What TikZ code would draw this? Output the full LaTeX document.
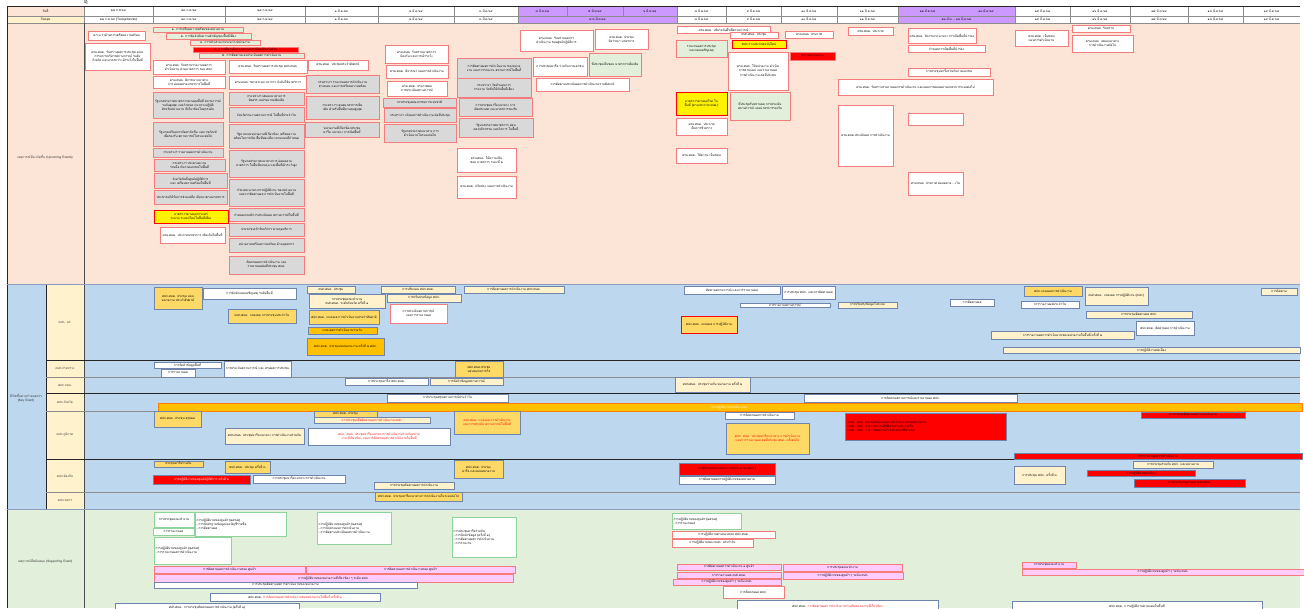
\documentclass[tikz,border=0pt]{standalone}
\usepackage{fontspec}
\newfontfamily\thaifont[Script=Thai]{Loma}
\XeTeXlinebreaklocale "th"
\XeTeXlinebreakskip=0pt

\definecolor{peach}{HTML}{FCE4D6}
\definecolor{keyblue}{HTML}{BDD7EE}
\definecolor{supgreen}{HTML}{E2EFDA}
\definecolor{cream}{HTML}{FFF2CC}
\definecolor{amber}{HTML}{FFD966}
\definecolor{deepamber}{HTML}{FFC000}
\definecolor{boxgray}{HTML}{D9D9D9}
\definecolor{boxred}{HTML}{F47C7C}
\definecolor{keyline}{HTML}{6F85AD}
\definecolor{pinkbar}{HTML}{FFCCFF}
\definecolor{greenline}{HTML}{8ED39B}
\definecolor{holiday}{HTML}{CC99FF}
\definecolor{gridgray}{HTML}{8C8C8C}

% box from corner (x1,y1) to corner (x2,y2), in pixels of the chart
\newcommand{\bx}[7]{%
  \pgfmathsetmacro\bxw{#5-#3}%
  \pgfmathsetmacro\bxh{#6-#4}%
  \pgfmathsetmacro\bxt{max(#5-#3-3,1)}%
  \node[#2, minimum width=\bxw pt, minimum height=\bxh pt, text width=\bxt pt] (#1) at ({(#3+#5)/2},{(#4+#6)/2}) {#7};%
}

\begin{document}
\begin{tikzpicture}[
    x=1pt, y=-1pt,
    tinyfont/.style={font=\thaifont\fontsize{3.1}{4.1}\selectfont},
    box/.style={tinyfont, line width=0.7pt, inner xsep=1.5pt, inner ysep=0pt, align=center},
    wbox/.style={box, fill=white, draw=boxred},
    gbox/.style={box, fill=boxgray, draw=boxred},
    lgbox/.style={box, fill=supgreen, draw=boxred},
    ybox/.style={box, fill=yellow, draw=red},
    rbox/.style={box, fill=red, draw=boxred},
    kwbox/.style={box, fill=white, draw=keyline},
    kobox/.style={box, fill=amber, draw=keyline},
    kdbox/.style={box, fill=deepamber, draw=keyline},
    kcbox/.style={box, fill=cream, draw=keyline},
    krbox/.style={box, fill=red, draw=keyline},
    pkbox/.style={box, fill=pinkbar, draw=boxred},
    gnbox/.style={box, fill=white, draw=greenline},
    hcell/.style={tinyfont, inner sep=0pt},
    lanelabel/.style={tinyfont, align=center, text=black!80},
    lanerule/.style={draw=black!85, line width=0.8pt},
    subrule/.style={draw=gridgray, line width=0.8pt}
  ]
  \useasboundingbox (0,0) rectangle (1304,608);

  %Backgrounds
  \fill[peach] (7,23) rectangle (1300,284);
  \fill[keyblue] (7,284) rectangle (1300,509);
  \fill[supgreen] (7,509) rectangle (1300,608);
  \fill[cream] (46,284) rectangle (84,509);

  %Header
  \fill[peach] (7,6) rectangle (84,16);
  \fill[cream] (7,16) rectangle (84,23);
  \fill[holiday] (518,6) rectangle (677,23);
  \fill[holiday] (898,6) rectangle (1015,23);
  \node[hcell] (hdate) at (45.5,11) {วันที่};
  \node[hcell] (hhol) at (45.5,19.5) {วันหยุด};
  \node[tinyfont, font=\thaifont\fontsize{6}{6}\selectfont] (mark) at (86,2) {ฤ};

  \foreach \xa/\xb/\dt [count=\i] in {84/153/{๒๒ ก.พ.๖๔}, 153/225/{๒๓ ก.พ.๖๔}, 225/305/{๒๔ ก.พ.๖๔},
      305/378/{๑ มี.ค.๖๔}, 378/454/{๒ มี.ค.๖๔}, 454/518/{๓ มี.ค.๖๔}, 518/567/{๔ มี.ค.๖๔},
      567/623/{๕ มี.ค.๖๔}, 623/677/{๖ มี.ค.๖๔}, 677/726/{๘ มี.ค.๖๔}, 726/781/{๙ มี.ค.๖๔},
      781/837/{๑๐ มี.ค.๖๔}, 837/898/{๑๑ มี.ค.๖๔}, 898/957/{๑๒ มี.ค.๖๔}, 957/1015/{๑๓ มี.ค.๖๔},
      1015/1070/{๑๕ มี.ค.๖๔}, 1070/1130/{๑๖ มี.ค.๖๔}, 1130/1188/{๑๗ มี.ค.๖๔}, 1188/1243/{๑๘ มี.ค.๖๔},
      1243/1300/{๑๙ มี.ค.๖๔}}
    {\node[hcell] (d\i) at ({(\xa+\xb)/2},11) {\dt};}

  \foreach \xa/\xb/\dt [count=\i] in {84/153/{๒๒ ก.พ.๖๔ (วันหยุดชดเชย)}, 153/225/{๒๓ ก.พ.๖๔}, 225/305/{๒๔ ก.พ.๖๔},
      305/378/{๑ มี.ค.๖๔}, 378/454/{๒ มี.ค.๖๔}, 454/518/{๓ มี.ค.๖๔}, 518/677/{๔-๖ มี.ค.๖๔},
      677/726/{๘ มี.ค.๖๔}, 726/781/{๙ มี.ค.๖๔}, 781/837/{๑๐ มี.ค.๖๔}, 837/898/{๑๑ มี.ค.๖๔},
      898/1015/{๑๒ มี.ค. - ๑๓ มี.ค.๖๔}, 1015/1070/{๑๕ มี.ค.๖๔}, 1070/1130/{๑๖ มี.ค.๖๔},
      1130/1188/{๑๗ มี.ค.๖๔}, 1188/1243/{๑๘ มี.ค.๖๔}, 1243/1300/{๑๙ มี.ค.๖๔}}
    {\node[hcell] (h\i) at ({(\xa+\xb)/2},19.5) {\dt};}

  \foreach \gx in {84,153,225,305,378,454,518,677,726,781,837,898,1015,1070,1130,1188,1243}
    {\draw[subrule, line width=0.6pt] (\gx,6) -- (\gx,23);}
  \draw[subrule, line width=0.6pt] (567,6) -- (567,16) (623,6) -- (623,16);
  \draw[lanerule] (7,6) -- (1300,6);
  \draw[subrule, line width=0.5pt] (7,16) -- (1300,16);
  \draw[subrule, line width=0.5pt] (7,23) -- (1300,23);
  \draw[lanerule] (7,6) -- (7,23);

  %Lane frames
  \draw[lanerule] (7,23) -- (7,608);
  \draw[lanerule, draw=black!70] (84,23) -- (84,608);
  \draw[lanerule] (46,284) -- (46,509);
  \draw[subrule, draw=keyline!80] (7,284) -- (1300,284);
  \draw[subrule, draw=keyline!80] (7,509) -- (1300,509);
  \foreach \ry in {360,393,459} {\draw[lanerule] (46,\ry) -- (1300,\ry);}
  \foreach \ry in {377,411,492} {\draw[subrule] (46,\ry) -- (1300,\ry);}

  \node[lanelabel] (lup) at (45,157) {เหตุการณ์ที่จะเกิดขึ้น (Upcoming Events)};
  \node[lanelabel] (lkey) at (26,398) {ที่เกิดขึ้นตามกำหนดการ\\(Key Event)};
  \node[lanelabel] (lsup) at (45,561) {เหตุการณ์ที่สนับสนุน (Supporting Event)};
  \node[lanelabel] (r1) at (65,322) {ศปก. นร.};
  \node[lanelabel] (r2) at (65,368.5) {ศปก.กระทรวง};
  \node[lanelabel] (r3) at (65,385) {ศปก.กทม.};
  \node[lanelabel] (r4) at (65,402) {ศปก.จังหวัด};
  \node[lanelabel] (r5) at (65,435) {ศปก.ภูมิภาค};
  \node[lanelabel] (r6) at (65,475.5) {ศปก.ท้องถิ่น};
  \node[lanelabel] (r7) at (65,500.5) {ศปก.ทหาร};

  %% Upcoming events
  \bx{u1}{wbox}{88}{31}{145}{40}{พ.ร.บ.ว่าด้วยการเตรียมความพร้อม}
  \bx{u2}{wbox}{85}{43}{150}{70}{ครม.ศบค. รับทราบผลการประชุม คณะกรรมการบริหารสถานการณ์ ระดับจังหวัด และมาตรการ เฝ้าระวังในพื้นที่}
  \bx{u3}{lgbox}{153}{27}{243}{32}{๑. การเตรียมความพร้อมของหน่วยงาน}
  \bx{u4}{lgbox}{166}{33}{251}{39}{๒. การจัดลำดับความสำคัญของพื้นที่เสี่ยง}
  \bx{u5}{lgbox}{190}{40}{260}{45}{๓. การประสานงานระหว่างหน่วยงาน}
  \bx{u6}{rbox}{193}{47}{298}{52}{๔. การบริหารจัดการสถานการณ์ฉุกเฉินเร่งด่วน}
  \bx{u7}{lgbox}{199}{53}{304}{58}{๕. การติดตามและประเมินผลการดำเนินงาน}
  \bx{u8}{wbox}{153}{60}{225}{74}{ครม.ศบค. รับทราบรายงานผลการดำเนินงาน ตามมาตรการ ของ ศปก.}
  \bx{u9}{wbox}{153}{76}{225}{88}{ครม.ศบค. พิจารณาแนวทางการ ผ่อนคลายมาตรการในพื้นที่}
  \bx{u10}{gbox}{153}{92}{223}{118}{รัฐบาลประกาศมาตรการควบคุมพื้นที่ สถานการณ์ระดับสูงสุด และกำหนด แนวทางปฏิบัติสำหรับหน่วยงาน ที่เกี่ยวข้องในทุกระดับ}
  \bx{u11}{gbox}{153}{122}{223}{146}{รัฐบาลเตรียมการจัดหาวัคซีน และเวชภัณฑ์ เพื่อรองรับ สถานการณ์ในระยะต่อไป}
  \bx{u12}{gbox}{153}{148}{223}{157}{กระทรวงฯ รายงานผลการดำเนินงาน}
  \bx{u13}{gbox}{154}{159}{225}{171}{กระทรวงฯ ประสานความร่วมมือ กับภาคเอกชนในพื้นที่}
  \bx{u14}{gbox}{154}{173}{227}{188}{จังหวัดจัดตั้งศูนย์ปฏิบัติการ และ เตรียมความพร้อมในพื้นที่}
  \bx{u15}{gbox}{154}{190}{227}{204}{ประชาชนได้รับการช่วยเหลือ เยียวยาตามมาตรการ}
  \bx{u16}{ybox}{154}{210}{228}{223}{มาตรการควบคุมการแพร่ระบาด ระลอกใหม่ในพื้นที่เสี่ยง}
  \bx{u17}{wbox}{160}{227}{225}{243}{ครม.ศบค. ประกาศมาตรการ เพิ่มเติมในพื้นที่}
  \bx{u18}{wbox}{229}{60}{307}{73}{ครม.ศบค. รับทราบผลการประชุม ศปก.ศบค.}
  \bx{u19}{wbox}{229}{76}{307}{89}{ครม.ศบค. ขยายระยะเวลาการ บังคับใช้มาตรการ}
  \bx{u20}{gbox}{229}{92}{304}{105}{กระทรวงฯ เสนอแนวทางการจัดสรร งบประมาณเพิ่มเติม}
  \bx{u21}{gbox}{229}{107}{304}{122}{จังหวัดรายงานสถานการณ์ ในพื้นที่ประจำวัน}
  \bx{u22}{gbox}{229}{124}{304}{148}{รัฐบาลและหน่วยงานที่เกี่ยวข้อง เตรียมความพร้อมในการเปิด พื้นที่ท่องเที่ยว ตามแผนที่กำหนด}
  \bx{u23}{gbox}{229}{150}{304}{177}{รัฐบาลประกาศแนวทางการ ผ่อนคลายมาตรการ ในพื้นที่ควบคุม และพื้นที่เฝ้าระวังสูง}
  \bx{u24}{gbox}{229}{179}{304}{206}{กำหนดแนวทางการปฏิบัติงาน ของหน่วยงาน และการติดตามผล การดำเนินงานในพื้นที่}
  \bx{u25}{gbox}{229}{208}{304}{221}{กำหนดเกณฑ์การประเมินผล สถานการณ์ในพื้นที่}
  \bx{u26}{gbox}{229}{223}{304}{236}{ประชาชนเข้ารับบริการ ตามจุดบริการ}
  \bx{u27}{gbox}{229}{238}{304}{252}{หน่วยงานเตรียมความพร้อม ด้านบุคลากร}
  \bx{u28}{gbox}{229}{256}{304}{274}{ติดตามผลการดำเนินงาน และ รายงานผลต่อที่ประชุม ศบค.}
  \bx{u29}{wbox}{308}{60}{368}{70}{ครม.ศบค. ประชุมประจำสัปดาห์}
  \bx{u30}{gbox}{306}{75}{379}{93}{กระทรวงฯ รายงานผลการดำเนินงาน ตามแผน และการเตรียมความพร้อม}
  \bx{u31}{gbox}{306}{96}{379}{119}{กระทรวงฯ เสนอมาตรการเพิ่มเติม สำหรับพื้นที่ควบคุมสูงสุด}
  \bx{u32}{gbox}{305}{122}{379}{137}{หน่วยงานที่เกี่ยวข้องประชุมหารือ แนวทาง การเปิดพื้นที่}
  \bx{u33}{wbox}{385}{45}{448}{63}{ครม.ศบค. รับทราบมาตรการ ป้องกัน และการเฝ้าระวัง}
  \bx{u34}{wbox}{386}{65}{448}{78}{ครม.ศบค. พิจารณา แผนการดำเนินงาน}
  \bx{u35}{wbox}{387}{81}{447}{96}{ครม.ศบค. ประกาศผล การประเมินสถานการณ์}
  \bx{u36}{gbox}{383}{98}{456}{107}{การประชุมคณะกรรมการแห่งชาติ}
  \bx{u37}{gbox}{384}{108}{456}{122}{กระทรวงฯ แจ้งผลการดำเนินงาน ต่อที่ประชุม}
  \bx{u38}{gbox}{384}{124}{456}{142}{รัฐบาลประกาศแนวทาง การดำเนินงานในระยะต่อไป}
  \bx{u39}{gbox}{457}{58}{531}{78}{การติดตามผลการดำเนินงาน ของหน่วยงาน และการรายงาน สถานการณ์ในพื้นที่}
  \bx{u40}{gbox}{457}{78}{531}{97}{กระทรวงฯ จัดทำแผนการกระจาย วัคซีนให้กับพื้นที่เสี่ยง}
  \bx{u41}{gbox}{459}{98}{532}{116}{การประชุมหารือแนวทาง การเปิดประเทศ และมาตรการรองรับ}
  \bx{u42}{gbox}{459}{118}{533}{137}{รัฐบาลประกาศมาตรการ ผ่อนคลายกิจกรรม และกิจการ ในพื้นที่}
  \bx{u43}{wbox}{457}{148}{516}{172}{ครม.ศบค. ให้ความเห็นชอบ มาตรการ ระยะที่ ๒}
  \bx{u44}{wbox}{457}{176}{516}{198}{ครม.ศบค. ปรับปรุง แผนการดำเนินงาน}
  \bx{u45}{wbox}{520}{30}{593}{51}{ครม.ศบค. รับทราบผลการดำเนินงาน ของศูนย์ปฏิบัติการ}
  \bx{u46}{wbox}{595}{29}{648}{49}{ครม.ศบค. ประชุมพิจารณา มาตรการ}
  \bx{u47}{wbox}{533}{57}{587}{76}{การประชุมหารือ ร่วมกับภาคเอกชน}
  \bx{u48}{lgbox}{589}{53}{641}{76}{ที่ประชุมเห็นชอบ มาตรการเพิ่มเติม}
  \bx{u49}{wbox}{536}{78}{629}{91}{การติดตามประเมินผลการดำเนินงานรายสัปดาห์}
  \bx{u50}{wbox}{677}{26}{770}{33}{ครม.ศบค. ปรับระดับพื้นที่สถานการณ์}
  \bx{u51}{lgbox}{676}{40}{727}{57}{รายงานผลการประชุม และแผนเผชิญเหตุ}
  \bx{u52}{ybox}{676}{92}{727}{115}{มาตรการควบคุมโรค ในพื้นที่ (ตามประกาศ ศบค.)}
  \bx{u53}{wbox}{676}{118}{727}{135}{ครม.ศบค. ประกาศ เป็นการชั่วคราว}
  \bx{u54}{wbox}{676}{148}{727}{163}{ครม.ศบค. ให้ความ เห็นชอบ}
  \bx{u55}{wbox}{730}{32}{778}{38}{ศปก.ศบค. ประชุม}
  \bx{u56}{ybox}{732}{40}{786}{48}{ศปก.ร่างประกาศฉบับใหม่}
  \bx{u57}{wbox}{785}{31}{833}{38}{ครม.ศบค. ประกาศ}
  \bx{u58}{wbox}{728}{52}{788}{90}{ครม.ศบค. ให้หน่วยงาน ดำเนินการตามแผน และรายงานผล การดำเนินงาน ต่อที่ประชุม}
  \bx{u59}{lgbox}{730}{92}{790}{120}{ที่ประชุมรับทราบผล การประเมินสถานการณ์ และมาตรการรองรับ}
  \bx{u60}{rbox}{790}{52}{835}{60}{ประชุมหน่วยงาน}
  \bx{u61}{wbox}{848}{27}{893}{35}{ครม.ศบค. ประกาศ}
  \bx{u62}{wbox}{838}{79}{993}{95}{ครม.ศบค. รับทราบรายงานผลการดำเนินงาน และแผนการผ่อนคลายมาตรการระยะต่อไป}
  \bx{u63}{wbox}{838}{105}{893}{166}{ครม.ศบค.ประเมินผล การดำเนินงาน}
  \bx{u64}{wbox}{908}{28}{976}{43}{ครม.ศบค. พิจารณาแนวทาง การเปิดพื้นที่นำร่อง}
  \bx{u65}{wbox}{908}{45}{985}{52}{กำหนดการเปิดพื้นที่นำร่อง}
  \bx{u66}{wbox}{908}{68}{990}{76}{การประชุมหารือร่วมกับภาคเอกชน}
  \bx{u67}{wbox}{908}{113}{963}{125}{}
  \bx{u68}{wbox}{908}{172}{963}{195}{ครม.ศบค. ประกาศ ผ่อนคลาย ...เว้น}
  \bx{u69}{wbox}{1015}{30}{1068}{46}{ครม.ศบค. เห็นชอบ แผนการดำเนินงาน}
  \bx{u70}{wbox}{1072}{25}{1130}{32}{ครม.ศบค. รับทราบ}
  \bx{u71}{wbox}{1072}{35}{1133}{52}{ครม.ศบค. เสนอแนวทาง การดำเนินงานต่อไป}

  %% Key events
  \bx{k1}{kobox}{154}{287}{202}{309}{ศปก.ศบค. ประชุม มอบหมายงาน ประจำสัปดาห์}
  \bx{k2}{kwbox}{203}{288}{296}{299}{การจัดทำแผนเผชิญเหตุ ระดับพื้นที่}
  \bx{k3}{kobox}{228}{309}{296}{323}{ศปก.ศบค. แถลงผล การประชุมประจำวัน}
  \bx{k4}{kcbox}{307}{286}{355}{293}{ศปก.ศบค. ประชุม}
  \bx{k5}{kcbox}{309}{294}{385}{308}{การประชุมคณะทำงาน ศปก.ศบค. ระดับจังหวัด ครั้งที่ ๑}
  \bx{k6}{kobox}{309}{310}{379}{324}{ศปก.ศบค. แถลงผล การดำเนินงานประจำสัปดาห์}
  \bx{k7}{kdbox}{308}{327}{377}{334}{แถลงผลการดำเนินงานรายวัน}
  \bx{k8}{kdbox}{307}{338}{384}{355}{ศปก.ศบค. ประชุมมอบหมายงาน ครั้งที่ ๒ ศปก.}
  \bx{k9}{kcbox}{381}{286}{455}{293}{การปรับแผน ศปก.ศบค.}
  \bx{k10}{kcbox}{387}{294}{461}{302}{การปรับปรุงข้อมูล ศปก.}
  \bx{k11}{wbox}{390}{304}{447}{323}{การประเมินสถานการณ์ และการรายงานผล}
  \bx{k12}{kcbox}{464}{286}{564}{293}{การติดตามผลการดำเนินงาน ศปก.ศบค.}
  \bx{k13}{kwbox}{684}{286}{780}{294}{ติดตามสถานการณ์ และการรายงานผล}
  \bx{k14}{kwbox}{782}{286}{835}{299}{การประชุม ศปก. และการติดตามผล}
  \bx{k15}{kwbox}{740}{303}{830}{307}{การรายงานสถานการณ์}
  \bx{k16}{kcbox}{838}{302}{897}{308}{การปรับปรุงข้อมูลในระบบ}
  \bx{k17}{kwbox}{950}{299}{994}{306}{การติดตามผล}
  \bx{k18}{kobox}{1024}{286}{1082}{296}{ศปก.แถลงผลการดำเนินงาน}
  \bx{k19}{kwbox}{1021}{301}{1079}{308}{การรายงานผลประจำวัน}
  \bx{k20}{kcbox}{1085}{287}{1148}{305}{ศปก.ศบค. แถลงผล การปฏิบัติงาน (ศปก.)}
  \bx{k21}{kcbox}{1086}{311}{1192}{318}{การประชุมติดตามผล ศปก.}
  \bx{k22}{kwbox}{1136}{321}{1194}{335}{ศปก.ศบค. ติดตามผล การดำเนินงาน}
  \bx{k23}{kcbox}{991}{331}{1134}{339}{การรายงานผลการดำเนินงานของหน่วยงานในพื้นที่ ครั้งที่ ๒}
  \bx{k24}{kcbox}{1003}{347}{1300}{353}{การปฏิบัติงานต่อเนื่อง}
  \bx{k25}{kcbox}{1261}{288}{1297}{295}{การติดตาม}
  \bx{k26}{kobox, draw=red}{681}{316}{737}{333}{ศปก.ศบค. แถลงผล การปฏิบัติงาน}
  \bx{k27}{kwbox}{154}{362}{221}{368}{การจัดทำข้อมูลพื้นที่}
  \bx{k28}{kwbox}{161}{369}{195}{377}{การรายงานผล}
  \bx{k29}{kwbox}{224}{361}{291}{377}{การประเมินสถานการณ์ และ สรุปผลการประชุม}
  \bx{k30}{kobox}{455}{361}{503}{377}{ศปก.ศบค.ประชุม มอบหมายภารกิจ}
  \bx{k31}{kwbox}{345}{378}{428}{385}{การประชุมหารือ ศปก.ศบค.}
  \bx{k32}{kcbox}{430}{378}{503}{385}{การจัดทำข้อมูลสถานการณ์}
  \bx{k33}{kcbox}{675}{377}{750}{392}{ศปก.ศบค. ประชุมร่วมกับ หน่วยงาน ครั้งที่ ๒}
  \bx{k34}{kwbox}{387}{394}{508}{402}{การประชุมสรุปสถานการณ์ประจำวัน}
  \bx{k35}{kwbox}{804}{394}{1017}{402}{การติดตามสถานการณ์และรายงานผล ศปก.}
  \bx{k36}{kdbox, draw=orange, text=white}{158}{403}{1302}{411}{การปฏิบัติงานต่อเนื่อง ศปก.}
  \bx{k37}{kobox}{154}{411}{201}{427}{ศปก.ศบค. ประชุม สรุปผล}
  \bx{k38}{kobox}{314}{411}{377}{417}{ศปก.ศบค. ประชุม}
  \bx{k39}{kcbox, text=red}{314}{417}{430}{423}{การประชุมเพื่อติดตามผลการดำเนินงาน ศปก.}
  \bx{k40}{kobox, text=red}{454}{411}{520}{434}{ศปก.ศบค. แถลงผล การดำเนินงาน และการประเมิน สถานการณ์ในพื้นที่}
  \bx{k41}{kcbox}{225}{428}{304}{444}{ศปก.ศบค. ประชุมหารือแนวทาง การดำเนินงานร่วมกัน}
  \bx{k42}{kwbox, text=red}{308}{428}{450}{445}{ศปก. ศบค. ประชุมหารือแนวทางการดำเนินงานร่วมกับหน่วยงาน ที่เกี่ยวข้อง และการติดตามผลการดำเนินงานในพื้นที่}
  \bx{k43}{kwbox}{725}{412}{794}{419}{การติดตามผลการดำเนินงาน}
  \bx{k44}{kobox, text=red}{726}{423}{809}{454}{ศปก. ศบค. ประชุมหารือแนวทาง การดำเนินงาน และการรายงานผล ต่อที่ประชุม ศบค. ครั้งต่อไป}
  \bx{k45}{krbox, align=left}{845}{413}{1006}{440}{- ศปก. ศบค. ประชุมติดตามผลการดำเนินงานของหน่วยงาน\\- ศปก. ศบค. ประสานการปฏิบัติงานร่วมกับจังหวัด\\- ศปก. ศบค. รายงานผลการดำเนินงานต่อที่ประชุม}
  \bx{k46}{krbox}{1141}{412}{1245}{418}{การประชุมติดตามผลการดำเนินงาน}
  \bx{k47}{krbox}{1014}{453}{1302}{459}{การรายงานผลการดำเนินงาน}
  \bx{k48}{kobox}{154}{461}{203}{467}{ประชุมหารือร่วมกัน}
  \bx{k49}{kobox}{225}{461}{270}{473}{ศปก.ศบค. ประชุม ครั้งที่ ๓}
  \bx{k50}{krbox, text=white}{153}{475}{250}{484}{การปฏิบัติงานของศูนย์ปฏิบัติการ ครั้งที่ ๒}
  \bx{k51}{kwbox}{253}{475}{345}{483}{การประชุมหารือแนวทางการดำเนินงาน}
  \bx{k52}{kcbox}{374}{482}{454}{489}{การประชุมติดตามผลการดำเนินงาน}
  \bx{k53}{kobox}{454}{460}{503}{478}{ศปก.ศบค. ประชุมหารือ และมอบหมายงาน}
  \bx{k54}{krbox}{679}{463}{775}{475}{การประชุมติดตามผลการดำเนินงาน (ศปก.)}
  \bx{k55}{kwbox}{679}{476}{775}{484}{การติดตามผลการปฏิบัติงานของหน่วยงาน}
  \bx{k56}{kcbox}{1014}{466}{1065}{484}{การประชุม ศปก. ครั้งที่ ๓}
  \bx{k57}{kcbox}{1133}{461}{1213}{468}{การประชุมร่วมกับ ศปก. และหน่วยงาน}
  \bx{k58}{krbox}{1087}{470}{1195}{476}{การปฏิบัติงานต่อเนื่อง}
  \bx{k59}{krbox}{1134}{479}{1245}{487}{การประชุมติดตามผล ศปก.ศบค.}
  \bx{k60}{kobox}{375}{492}{462}{501}{ศปก.ศบค. ประชุมหารือแนวทางการดำเนินงานในระยะต่อไป}

  %% Supporting events
  \bx{s1}{gnbox}{154}{512}{194}{527}{การประชุมคณะทำงาน}
  \bx{s2}{gnbox}{153}{528}{194}{535}{การรายงานผล}
  \bx{s3}{gnbox, align=left}{195}{512}{286}{536}{การปฏิบัติงานของศูนย์ฯ (๒๕๖๔)\\- การจัดทำฐานข้อมูลและบัญชีรายชื่อ\\- การติดตามผล}
  \bx{s4}{gnbox, align=left}{154}{537}{231}{564}{การปฏิบัติงานของศูนย์ฯ (๒๕๖๔)\\- การรายงานผลการดำเนินงาน}
  \bx{s5}{gnbox, align=left}{317}{512}{391}{544}{การปฏิบัติงานของศูนย์ฯ (๒๕๖๔)\\- การจัดทำแผนการดำเนินงาน\\- การติดตามประเมินผลการดำเนินงาน}
  \bx{s6}{gnbox, align=left}{452}{517}{516}{557}{การประชุมหารือร่วมกัน\\- การจัดทำข้อมูล (ครั้งที่ ๑)\\- การติดตามผลการดำเนินงาน\\- การรายงาน}
  \bx{s7}{pkbox}{154}{566}{305}{573}{การติดตามผลการดำเนินงานของ ศูนย์ฯ}
  \bx{s8}{pkbox}{306}{566}{515}{573}{การติดตามผลการดำเนินงานของ ศูนย์ฯ}
  \bx{s9}{pkbox}{154}{574}{513}{582}{การปฏิบัติงานของหน่วยงานที่เกี่ยวข้อง ๆ ระดับ ศปก.}
  \bx{s10}{kwbox}{154}{582}{417}{588}{การประชุมติดตามผลการดำเนินงานของหน่วยงาน}
  \bx{s11}{kwbox}{210}{593}{380}{601}{ศปก.ศบค. {\color{red}การติดตามผลการดำเนินงานของหน่วยงานในพื้นที่ ครั้งที่ ๒}}
  \bx{s12}{kwbox}{115}{603}{299}{611}{ศปก.ศบค. การประชุมติดตามผลการดำเนินงาน (ครั้งที่ ๑)}
  \bx{s13}{gnbox, align=left}{672}{513}{741}{529}{การปฏิบัติงานของศูนย์ฯ (๒๕๖๔)\\- การรายงานผล}
  \bx{s14}{wbox}{672}{531}{775}{538}{การปฏิบัติงานตามแผนของ ศปก.ศบค.}
  \bx{s15}{wbox}{672}{539}{753}{547}{การปฏิบัติงานของ ศปก. ประจำวัน}
  \bx{s16}{pkbox}{677}{564}{781}{570}{การติดตามผลการดำเนินงาน ๑ ศูนย์ฯ}
  \bx{s17}{pkbox}{677}{572}{781}{578}{การรายงานผล ศปก.ศบค.}
  \bx{s18}{pkbox}{673}{579}{781}{585}{การปฏิบัติงานของศูนย์ฯ ๆ ระดับ ศปก.}
  \bx{s19}{wbox}{723}{586}{784}{598}{การติดตามผล ศปก.}
  \bx{s20}{pkbox}{783}{564}{902}{571}{การประชุมคณะทำงาน}
  \bx{s21}{pkbox}{783}{572}{903}{579}{การปฏิบัติงานของศูนย์ฯ ๆ ระดับ ศปก.}
  \bx{s22}{pkbox}{1022}{562}{1076}{568}{การประชุมคณะทำงาน}
  \bx{s23}{pkbox}{1022}{569}{1304}{575}{การปฏิบัติงานของศูนย์ฯ ๆ ระดับ ศปก.}
  \bx{s24}{kwbox}{737}{600}{938}{611}{ศปก.ศบค. {\color{red}การติดตามผลการดำเนินงานร่วมกับหน่วยงานที่เกี่ยวข้อง}}
  \bx{s25}{kwbox}{1012}{601}{1262}{611}{ศปก.ศบค. การปฏิบัติงานตามแผนในพื้นที่}
\end{tikzpicture}
\end{document}
